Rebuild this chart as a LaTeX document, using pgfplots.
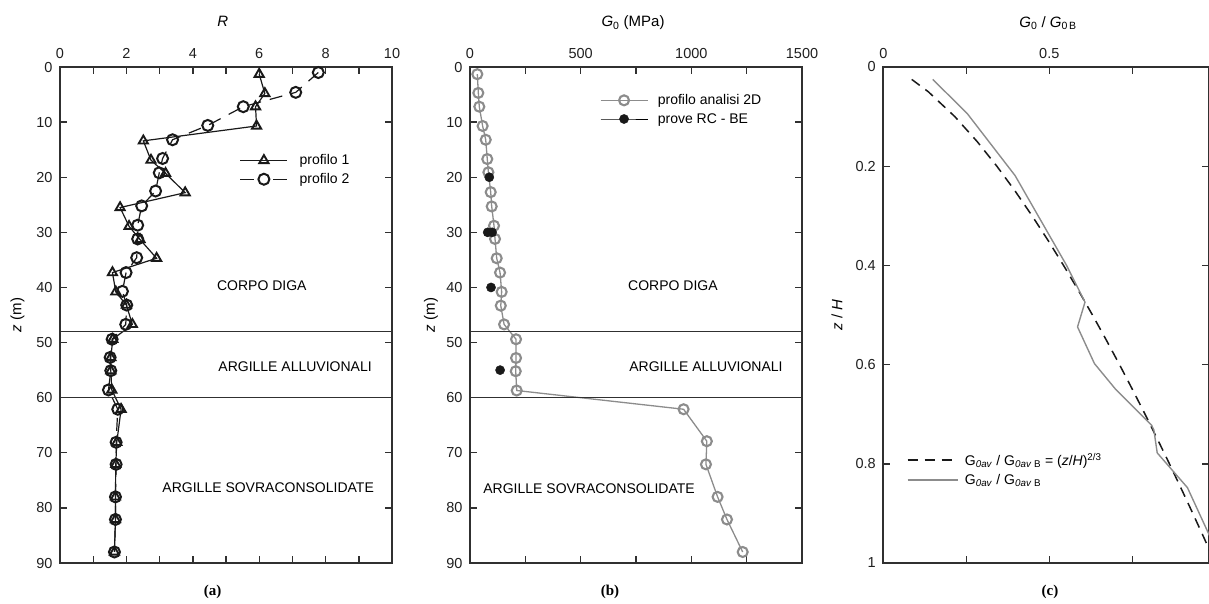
\documentclass[border=0pt]{standalone}
\usepackage{fontspec}
\setmainfont{Liberation Sans}
\newfontfamily\serifb{Liberation Serif}
\usepackage{pgfplots}
\pgfplotsset{compat=1.18}
\definecolor{axisgray}{HTML}{303030}
\definecolor{lgray}{HTML}{8C8C8C}
\pgfplotsset{
  myaxis/.style={
    scale only axis, width=332pt, height=496pt,
    y dir=reverse,
    axis line style={line width=1.8pt, color=axisgray},
    every tick/.style={line width=1.4pt, color=axisgray},
    tick align=inside,
    major tick length=7pt, minor tick length=7pt,
    xticklabel pos=right,
    xtick pos=both, ytick pos=both,
    yticklabel pos=left,
    ticklabel style={font=\fontsize{14.5}{16}\selectfont, color=black!88},
    /pgf/number format/assume math mode=true,
    /pgf/number format/1000 sep={},
    xticklabel style={yshift=5pt},
    yticklabel style={xshift=-4pt},
    legend cell align=left,
    legend style={draw=none, fill=none, font=\fontsize{14}{16}\selectfont, inner sep=0pt, row sep=0pt, nodes={inner sep=3.6pt}},
  },
  dashleg/.style={legend image code/.code={\draw[##1, dash pattern=on 14pt off 19pt on 14pt off 0pt] (0pt,0pt) -- (47pt,0pt); \draw[##1] plot coordinates {(23.5pt,0pt)};}},
}
\begin{document}
\begin{tikzpicture}[x=1pt,y=1pt]
\useasboundingbox (0,0) rectangle (1209,603);

% ---------------- (a)
\begin{axis}[myaxis, at={(60pt,40pt)}, anchor=south west,
  xmin=0, xmax=10, ymin=0, ymax=90,
  xtick={0,2,...,10}, minor xtick={1,3,...,9},
  ytick={0,10,...,90},
  legend style={at={(axis cs:5.41,15.2)}, anchor=north west, /tikz/every odd column/.append style={column sep=8pt}},
  legend image code/.code={\draw[mark repeat=2,mark phase=2,#1] plot coordinates {(0pt,0pt) (23.5pt,0pt) (47pt,0pt)};},
]
\addplot[black!90, line width=1.2pt, mark=triangle, mark size=5.3pt, mark options={solid, line width=1.9pt, fill=none}] coordinates {
(6.0,1.3) (6.17,4.8) (5.89,7.2) (5.92,10.7) (2.51,13.4) (2.74,16.9) (3.18,19.3) (3.77,22.8) (1.81,25.5) (2.08,28.9) (2.41,31.3) (2.91,34.7) (1.58,37.3) (1.68,40.8) (2.0,43.2) (2.18,46.7) (1.59,49.4) (1.53,52.7) (1.53,55.1) (1.56,58.6) (1.84,62.1) (1.71,68.1) (1.68,72.1) (1.67,78.0) (1.67,82.1) (1.64,88.0)};
\addlegendentry{profilo 1}
\addplot[black!90, line width=1.2pt, dash pattern=on 13pt off 9pt, mark=o, mark size=5.5pt, mark options={solid, line width=2pt, fill=none}, dashleg] coordinates {
(7.78,1.0) (7.10,4.6) (5.52,7.2) (4.45,10.6) (3.39,13.2) (3.09,16.6) (2.99,19.2) (2.88,22.5) (2.46,25.2) (2.34,28.7) (2.34,31.2) (2.31,34.6) (1.99,37.3) (1.88,40.7) (2.01,43.2) (1.98,46.7) (1.57,49.4) (1.51,52.7) (1.53,55.1) (1.46,58.6) (1.74,62.1) (1.69,68.1) (1.69,72.1) (1.67,78.0) (1.67,82.1) (1.64,88.0)};
\addlegendentry{profilo 2}
\addplot[axisgray, line width=1.6pt, forget plot] coordinates {(0,48) (10,48)};
\addplot[axisgray, line width=1.6pt, forget plot] coordinates {(0,60) (10,60)};
\node[font=\fontsize{14}{16}\selectfont] at (axis cs:6.08,39.6) {CORPO DIGA};
\node[font=\fontsize{14}{16}\selectfont] at (axis cs:7.08,54.4) {ARGILLE ALLUVIONALI};
\node[font=\fontsize{14}{16}\selectfont] at (axis cs:6.27,76.4) {ARGILLE SOVRACONSOLIDATE};
\end{axis}

% ---------------- (b)
\begin{axis}[myaxis, at={(470pt,40pt)}, anchor=south west,
  xmin=0, xmax=1500, ymin=0, ymax=90,
  xtick={0,500,1000,1500}, minor xtick={250,750,1250},
  ytick={0,10,...,90},
  legend style={at={(axis cs:586,4.3)}, anchor=north west, /tikz/every odd column/.append style={column sep=6pt}},
  legend image code/.code={\draw[mark repeat=2,mark phase=2,#1] plot coordinates {(0pt,0pt) (23.5pt,0pt) (47pt,0pt)};},
]
\addplot[lgray, line width=1.3pt, mark=o, mark size=5pt, mark options={line width=2.1pt, lgray, fill=none}] coordinates {
(33,1.3) (37.6,4.7) (42,7.2) (57,10.7) (71,13.2) (78,16.7) (83,19.1) (93.5,22.7) (98,25.3) (108.5,28.8) (113,31.2) (120.6,34.7) (135.7,37.3) (143,40.8) (139,43.3) (154,46.7) (208,49.4) (208,52.8) (206.6,55.2) (211,58.7) (965,62.1) (1070,67.9) (1066,72.1) (1118.6,78.0) (1161,82.1) (1232,88.0)};
\addlegendentry{profilo analisi 2D}
\addplot[draw=none, mark=*, mark size=4.6pt, mark options={black!90}] coordinates {
(87,20) (80,30) (100,30) (95,40) (136,55)};
\addlegendentry{prove RC - BE}
\addplot[axisgray, line width=1.6pt, forget plot] coordinates {(0,48) (1500,48)};
\addplot[axisgray, line width=1.6pt, forget plot] coordinates {(0,60) (1500,60)};
\node[font=\fontsize{14}{16}\selectfont] at (axis cs:917,39.6) {CORPO DIGA};
\node[font=\fontsize{14}{16}\selectfont] at (axis cs:1066,54.4) {ARGILLE ALLUVIONALI};
\node[font=\fontsize{14}{16}\selectfont] at (axis cs:538,76.5) {ARGILLE SOVRACONSOLIDATE};
\end{axis}

% ---------------- (c)
\begin{axis}[myaxis, at={(883.3pt,40pt)}, anchor=south west, width=325.7pt,
  xmin=0, xmax=0.981, ymin=0, ymax=1,
  xtick={0,0.25,0.5,0.75}, xticklabels={0,,0.5,},
  ytick={0,0.2,0.4,0.6,0.8,1},
  legend style={at={(axis cs:0.0702,0.771)}, anchor=north west, /tikz/every odd column/.append style={column sep=3pt}},
  legend image code/.code={\draw[#1] (0pt,0pt) -- (50pt,0pt);},
]
\addplot[black!90, line width=1.5pt, dash pattern=on 10pt off 7pt, no marks] coordinates {
(0.0855,0.025) (0.1357,0.05) (0.2154,0.1) (0.2823,0.15) (0.3420,0.2) (0.3969,0.25) (0.4481,0.3) (0.4966,0.35) (0.5429,0.4) (0.5872,0.45) (0.6300,0.5) (0.6713,0.55) (0.7114,0.6) (0.7503,0.65) (0.7884,0.7) (0.8255,0.75) (0.8618,0.8) (0.8973,0.85) (0.9322,0.9) (0.9664,0.95) (1.0,1.0)};
\addlegendentry{G\textsubscript{\textit{0av}} / G\textsubscript{\textit{0av} B} = (\textit{z}/\textit{H})\textsuperscript{2/3}}
\addplot[lgray, line width=1.4pt, no marks] coordinates {
(0.149,0.025) (0.253,0.094) (0.397,0.219) (0.552,0.40) (0.6075,0.474) (0.585,0.524) (0.636,0.598) (0.70,0.65) (0.808,0.722) (0.815,0.732) (0.825,0.778) (0.916,0.848) (0.982,0.944) (1.0,0.97)};
\addlegendentry{G\textsubscript{\textit{0av}} / G\textsubscript{\textit{0av} B}}
\end{axis}

% ---------------- labels
\node[font=\fontsize{15}{17}\selectfont] at (222.7,581.3) {\textit{R}};
\node[font=\fontsize{15}{17}\selectfont] at (633,580) {\textit{G}\textsubscript{0} (MPa)};
\node[font=\fontsize{15}{17}\selectfont] at (1048,580) {\textit{G}\textsubscript{0} / \textit{G}\textsubscript{0\,B}};
\node[font=\fontsize{15}{17}\selectfont, rotate=90] at (17.5,288) {\textit{z} (m)};
\node[font=\fontsize{15}{17}\selectfont, rotate=90] at (431,288) {\textit{z} (m)};
\node[font=\fontsize{15}{17}\selectfont, rotate=90] at (837,288) {\textit{z} / \textit{H}};
\node[font=\serifb\bfseries\fontsize{15}{17}\selectfont] at (212.7,11.3) {(a)};
\node[font=\serifb\bfseries\fontsize{15}{17}\selectfont] at (610,11.3) {(b)};
\node[font=\serifb\bfseries\fontsize{15}{17}\selectfont] at (1050,11.3) {(c)};
\end{tikzpicture}
\end{document}
